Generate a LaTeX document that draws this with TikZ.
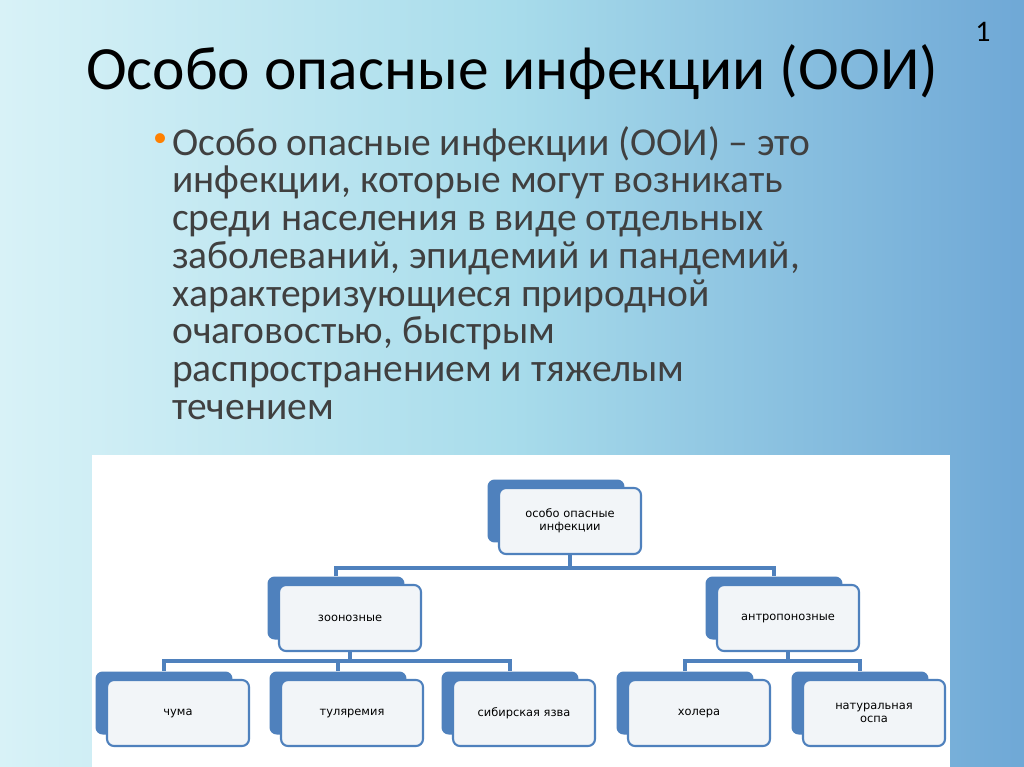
\documentclass[tikz,border=0pt]{standalone}
\usepackage{fontspec}
\setmainfont{Carlito}
\newfontfamily\boxfont{DejaVu Sans}
\definecolor{boxblue}{HTML}{4F81BD}
\definecolor{boxfill}{HTML}{F2F5F8}
\definecolor{bodygrey}{HTML}{404040}
\definecolor{bgleft}{HTML}{D8F2F7}
\definecolor{bgmid}{HTML}{A8DCEB}
\definecolor{bgright}{HTML}{6FA8D6}
\tikzset{
  backbox/.style={fill=boxblue, rounded corners=4pt, minimum width=2.74cm, minimum height=1.26cm},
  frontbox/.style={draw=boxblue, line width=1.2pt, fill=boxfill, rounded corners=4pt,
    minimum width=2.84cm, minimum height=1.32cm, align=center, font=\boxfont\fontsize{6.5}{7.5}\selectfont},
  link/.style={draw=boxblue, line width=1.8pt}
}
% back box plus front box
\newcommand{\dbox}[4]{%
  \node[backbox] (#1b) at (#2,#3) {};
  \node[frontbox] (#1) at ($(#1b)+(14,10)$) {#4};}
\usetikzlibrary{calc}
\begin{document}
\begin{tikzpicture}[x=0.02cm,y=-0.02cm]
  % background
  \shade[left color=bgleft, right color=bgright, middle color=bgmid] (0,0) rectangle (1024,767);
  \useasboundingbox (0,0) rectangle (1024,767);

  % title and page number
  \node[font=\fontsize{35}{40}\selectfont] (title) at (512,72) {Особо опасные инфекции (ООИ)};
  \node[font=\fontsize{17}{20}\selectfont] (pnum) at (983,32) {1};

  % definition
  \node[text=orange, font=\fontsize{16}{18}\selectfont] (dot) at (160,140) {•};
  \node[anchor=north west, text=bodygrey, align=left, font=\fontsize{22.5}{21.5}\selectfont] (def) at (166,120)
    {Особо опасные инфекции (ООИ) – это\\инфекции, которые могут возникать\\среди населения в виде отдельных\\заболеваний, эпидемий и пандемий,\\характеризующиеся природной\\очаговостью, быстрым\\распространением и тяжелым\\течением};

  % chart panel
  \fill[white] (92,455) rectangle (950,767);

  \dbox{top}{556}{511}{особо опасные\\инфекции}
  \dbox{zoo}{336}{608}{зоонозные}
  \dbox{ant}{774}{608}{антропонозные}
  \dbox{plague}{164}{703}{чума}
  \dbox{tul}{338}{703}{туляремия}
  \dbox{sib}{510}{703}{сибирская язва}
  \dbox{chol}{685}{703}{холера}
  \dbox{pox}{860}{703}{натуральная\\оспа}

  % connectors
  \draw[link] (top.south) -- ++(0,13) coordinate (j1);
  \draw[link] (zoob.north) |- (j1) -| (antb.north);
  \draw[link] (zoo.south) -- ++(0,9) coordinate (j2);
  \draw[link] (plagueb.north) |- (j2) -| (sibb.north);
  \draw[link] (tulb.north) |- (j2);
  \draw[link] (ant.south) -- ++(0,9) coordinate (j3);
  \draw[link] (cholb.north) |- (j3) -| (poxb.north);
\end{tikzpicture}
\end{document}
